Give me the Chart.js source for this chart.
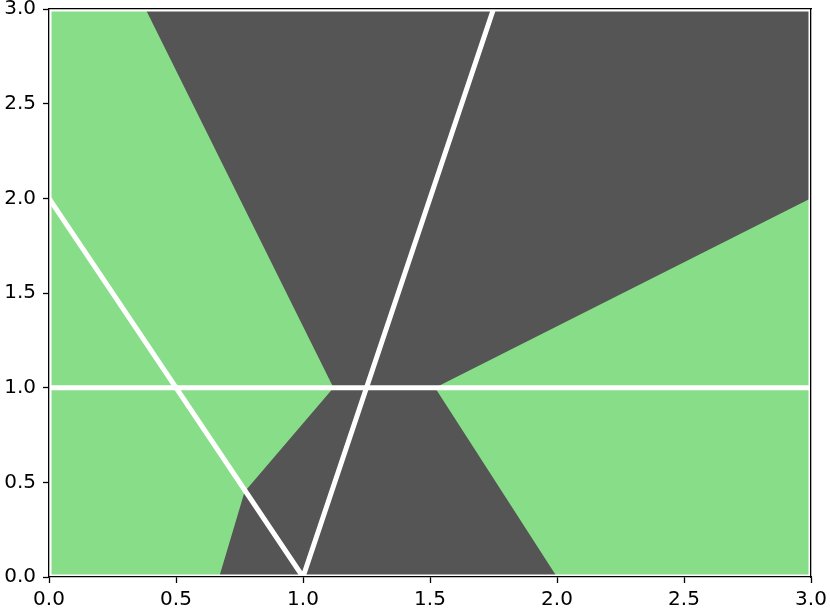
<!DOCTYPE html>
<html>
<head>
<meta charset="utf-8">
<script src="https://cdn.jsdelivr.net/npm/chart.js@4/dist/chart.umd.min.js"></script>
<style>
  html, body { margin: 0; padding: 0; background: #ffffff; }
  #wrap { width: 830px; height: 610px; }
</style>
</head>
<body>
<div id="wrap"><canvas id="c" width="830" height="610"></canvas></div>
<script>
// ---- data ----
const tickValues = [0, 0.5, 1.0, 1.5, 2.0, 2.5, 3.0];
const tickLabels = ["0.0", "0.5", "1.0", "1.5", "2.0", "2.5", "3.0"];

// background (green) region: whole domain
const greenRegionX = [0, 3, 3, 0, 0];
const greenRegionY = [0, 0, 3, 3, 0];

// dark region polygon
const grayRegionX = [0.38, 3.0, 3.0, 1.52, 2.0, 0.67, 0.77, 1.12, 0.38];
const grayRegionY = [3.0, 3.0, 2.0, 1.0, 0.0, 0.0, 0.45, 1.0, 3.0];

// white lines
const hLineX = [0, 3];
const hLineY = [1, 1];
const vLineX = [0, 1, 1.75];
const vLineY = [2, 0, 3];

// frame (white inner margin)
const frameX = [0, 3, 3, 0, 0];
const frameY = [0, 0, 3, 3, 0];

const GREEN = 'rgb(136,222,136)';
const GRAY = 'rgb(85,85,85)';

function pts(xs, ys) { return xs.map((x, i) => ({ x: x, y: ys[i] })); }

const baseDs = {
  type: 'scatter', showLine: true, pointRadius: 0, pointHoverRadius: 0,
  xAxisID: 'x', yAxisID: 'y', tension: 0
};

const FONT = { family: 'DejaVu Sans', size: 20 };

function noPad(s) { s.paddingTop = 0; s.paddingBottom = 0; s.paddingLeft = 0; s.paddingRight = 0; }

new Chart(document.getElementById('c'), {
  type: 'scatter',
  data: {
    datasets: [
      Object.assign({}, baseDs, {
        data: pts(greenRegionX, greenRegionY), order: 5,
        borderWidth: 0, borderColor: 'rgba(0,0,0,0)', backgroundColor: GREEN, fill: 'shape', clip: 0
      }),
      Object.assign({}, baseDs, {
        data: pts(grayRegionX, grayRegionY), order: 4,
        borderWidth: 0, borderColor: 'rgba(0,0,0,0)', backgroundColor: GRAY, fill: 'shape', clip: 0
      }),
      Object.assign({}, baseDs, {
        data: pts(frameX, frameY), order: 3,
        borderWidth: 5, borderColor: '#ffffff', fill: false, clip: 0
      }),
      Object.assign({}, baseDs, {
        data: pts(hLineX, hLineY), order: 2,
        borderWidth: 5, borderColor: '#ffffff', fill: false, clip: 0, borderCapStyle: 'butt'
      }),
      Object.assign({}, baseDs, {
        data: pts(vLineX, vLineY), order: 1,
        borderWidth: 5, borderColor: '#ffffff', fill: false, clip: 0,
        borderJoinStyle: 'miter', borderCapStyle: 'butt'
      })
    ]
  },
  options: {
    responsive: false,
    animation: false,
    devicePixelRatio: 1,
    layout: { padding: { top: 9, right: 19, left: 0, bottom: 0 } },
    plugins: { legend: { display: false }, tooltip: { enabled: false } },
    scales: {
      x: {
        type: 'linear', position: 'bottom', min: 0, max: 3,
        afterBuildTicks: (s) => { s.ticks = tickValues.map(v => ({ value: v })); },
        ticks: {
          color: '#000', font: FONT, padding: 5, maxRotation: 0,
          callback: (v) => tickLabels[tickValues.indexOf(v)] ?? ''
        },
        grid: { display: true, drawOnChartArea: false, drawTicks: true, tickLength: 6, tickWidth: 1.3, tickColor: '#000' },
        border: { display: true, color: '#000', width: 1.3, z: 1 },
        afterFit: (s) => { s.height = 33; noPad(s); }
      },
      y: {
        type: 'linear', position: 'left', min: 0, max: 3,
        afterBuildTicks: (s) => { s.ticks = tickValues.map(v => ({ value: v })); },
        ticks: {
          color: '#000', font: FONT, padding: 7,
          callback: (v) => tickLabels[tickValues.indexOf(v)] ?? ''
        },
        grid: { display: true, drawOnChartArea: false, drawTicks: true, tickLength: 6, tickWidth: 1.3, tickColor: '#000' },
        border: { display: true, color: '#000', width: 1.3, z: 1 },
        afterFit: (s) => { s.width = 49; noPad(s); }
      },
      x2: {
        type: 'linear', position: 'top', min: 0, max: 3,
        ticks: { display: false },
        grid: { display: false },
        border: { display: true, color: '#000', width: 1.3, z: 1 },
        afterFit: (s) => { s.height = 0; noPad(s); }
      },
      y2: {
        type: 'linear', position: 'right', min: 0, max: 3,
        ticks: { display: false },
        grid: { display: false },
        border: { display: true, color: '#000', width: 1.3, z: 1 },
        afterFit: (s) => { s.width = 0; noPad(s); }
      }
    }
  }
});
</script>
</body>
</html>
